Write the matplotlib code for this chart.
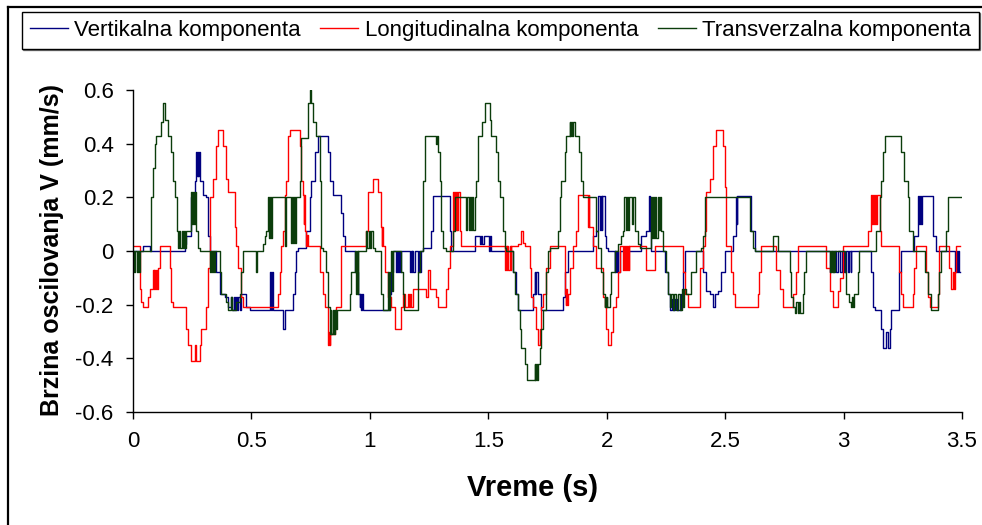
import matplotlib
matplotlib.use("Agg")
import matplotlib.pyplot as plt
from matplotlib.lines import Line2D
from matplotlib.ticker import FuncFormatter, MultipleLocator

plt.rcParams['font.family'] = ['Liberation Sans', 'DejaVu Sans']

# (vreme [s], brzina [mm/s]) - stepenasti zapis, svaka tacka vazi do sledece
vertikalna = [
    (0.000, 0.0), (0.042, 0.02), (0.070, 0.0), (0.218, 0.025), (0.225, 0.055), (0.246, 0.20),
    (0.260, 0.26), (0.267, 0.37), (0.270, 0.28), (0.273, 0.37), (0.276, 0.28), (0.279, 0.37),
    (0.281, 0.26), (0.295, 0.21), (0.310, 0.20), (0.317, 0.055), (0.324, 0.0),
    (0.352, -0.08), (0.366, -0.16), (0.387, -0.17), (0.401, -0.21), (0.415, -0.17), (0.420, -0.22),
    (0.425, -0.17), (0.430, -0.22), (0.435, -0.17), (0.440, -0.22), (0.445, -0.17), (0.450, -0.22),
    (0.457, -0.16), (0.478, -0.21), (0.492, -0.22),
    (0.577, -0.08), (0.581, -0.22), (0.585, -0.08), (0.591, -0.22), (0.633, -0.29), (0.640, -0.22),
    (0.675, -0.16), (0.682, -0.08), (0.689, 0.0), (0.697, 0.01), (0.732, 0.075), (0.746, 0.20),
    (0.753, 0.26), (0.767, 0.37), (0.781, 0.43), (0.823, 0.37), (0.830, 0.26), (0.844, 0.21),
    (0.880, 0.14), (0.887, 0.055), (0.894, 0.0),
    (0.936, -0.08), (0.950, -0.16), (0.957, -0.21), (0.960, -0.16), (0.964, -0.22), (0.967, -0.16),
    (0.971, -0.22), (1.084, -0.16), (1.091, -0.08), (1.098, 0.0),
    (1.112, -0.08), (1.116, 0.0), (1.120, -0.08), (1.125, 0.0), (1.129, -0.08), (1.133, 0.0),
    (1.168, -0.08), (1.172, 0.0), (1.176, -0.08), (1.180, 0.0), (1.184, -0.08), (1.189, 0.0),
    (1.203, -0.08), (1.207, 0.0), (1.211, -0.08), (1.217, 0.0), (1.224, 0.01), (1.259, 0.075),
    (1.266, 0.205), (1.337, 0.075), (1.344, 0.0),
    (1.443, 0.055), (1.464, 0.025), (1.468, 0.055), (1.475, 0.025), (1.480, 0.055),
    (1.503, 0.0), (1.507, 0.055), (1.513, 0.0),
    (1.604, -0.08), (1.618, -0.16), (1.625, -0.22), (1.689, -0.16), (1.696, -0.08), (1.699, -0.16),
    (1.703, -0.08), (1.710, -0.16), (1.724, -0.22), (1.815, -0.17), (1.822, -0.08), (1.836, 0.0),
    (1.942, 0.055), (1.956, 0.075), (1.963, 0.205), (1.970, 0.08), (1.974, 0.205), (1.978, 0.08),
    (1.982, 0.205), (1.991, 0.055), (1.998, 0.01), (2.005, 0.0),
    (2.033, -0.08), (2.037, 0.0), (2.041, -0.08), (2.045, 0.0), (2.049, -0.08), (2.054, 0.0),
    (2.146, 0.055), (2.167, 0.075), (2.179, 0.205), (2.182, 0.075), (2.188, 0.0), (2.245, -0.08),
    (2.259, -0.16), (2.266, -0.22), (2.275, -0.18), (2.280, -0.22), (2.290, -0.18), (2.295, -0.22),
    (2.315, -0.16), (2.322, -0.08), (2.329, 0.0),
    (2.406, -0.08), (2.421, -0.15), (2.435, -0.16), (2.449, -0.21), (2.456, -0.16), (2.470, -0.15),
    (2.484, -0.08), (2.498, 0.0), (2.533, 0.055), (2.547, 0.20), (2.550, 0.10), (2.552, 0.205),
    (2.610, 0.075), (2.624, 0.0),
    (2.941, -0.08), (2.948, 0.0), (2.955, -0.08), (2.960, 0.0), (2.966, -0.08), (2.975, 0.0),
    (2.985, -0.08), (2.992, 0.0), (3.000, -0.08), (3.010, 0.0), (3.018, -0.08), (3.025, 0.0),
    (3.030, -0.08), (3.032, 0.0),
    (3.116, -0.08), (3.123, -0.21), (3.131, -0.22), (3.159, -0.29), (3.166, -0.36), (3.180, -0.30),
    (3.187, -0.36), (3.194, -0.29), (3.201, -0.22), (3.236, -0.08), (3.243, 0.0), (3.299, 0.055),
    (3.313, 0.205), (3.318, 0.10), (3.322, 0.205), (3.326, 0.10), (3.330, 0.205), (3.377, 0.055),
    (3.391, 0.0),
    (3.469, -0.08), (3.473, 0.0), (3.478, -0.08), (3.483, 0.0), (3.487, -0.08), (3.490, -0.08),
]

longitudinalna = [
    (0.000, 0.02), (0.028, -0.14), (0.035, -0.19), (0.042, -0.21), (0.063, -0.17), (0.070, -0.14),
    (0.084, -0.07), (0.087, -0.14), (0.090, -0.07), (0.094, -0.14), (0.098, -0.07), (0.102, -0.14),
    (0.106, -0.065), (0.113, 0.02),
    (0.155, -0.065), (0.162, -0.19), (0.169, -0.21), (0.225, -0.29), (0.232, -0.35), (0.246, -0.41),
    (0.262, -0.35), (0.265, -0.41), (0.281, -0.35), (0.288, -0.29), (0.310, -0.21), (0.317, -0.065),
    (0.324, 0.20), (0.338, 0.27), (0.352, 0.39), (0.359, 0.45), (0.380, 0.39), (0.394, 0.27),
    (0.401, 0.22), (0.429, 0.09), (0.436, 0.02), (0.443, -0.065), (0.457, -0.17), (0.464, -0.21),
    (0.612, -0.16), (0.619, -0.08), (0.626, 0.02), (0.633, 0.075), (0.640, 0.21), (0.647, 0.26),
    (0.654, 0.43), (0.661, 0.45), (0.704, 0.39), (0.711, 0.26), (0.718, 0.21), (0.721, 0.10),
    (0.723, 0.21), (0.725, 0.075), (0.732, 0.02), (0.735, 0.06), (0.738, 0.02),
    (0.788, -0.08), (0.802, -0.16), (0.809, -0.21), (0.823, -0.35), (0.826, -0.30), (0.830, -0.35),
    (0.833, -0.30), (0.837, -0.31), (0.851, -0.22), (0.858, -0.21), (0.880, 0.02), (0.985, 0.075),
    (0.992, 0.22), (1.013, 0.27), (1.034, 0.22), (1.048, 0.09), (1.051, 0.02), (1.053, 0.09),
    (1.055, 0.02), (1.062, -0.08), (1.076, -0.17), (1.091, -0.21), (1.105, -0.29), (1.133, -0.21),
    (1.140, -0.16), (1.147, -0.21), (1.161, -0.16), (1.165, -0.21), (1.170, -0.16), (1.175, -0.21),
    (1.182, -0.14), (1.238, -0.17), (1.245, -0.07), (1.252, -0.14), (1.281, -0.17), (1.288, -0.21),
    (1.323, -0.14), (1.330, -0.065), (1.337, 0.02),
    (1.351, 0.22), (1.355, 0.08), (1.358, 0.22), (1.362, 0.08), (1.366, 0.22), (1.370, 0.08),
    (1.374, 0.22), (1.379, 0.075), (1.386, 0.02),
    (1.569, -0.07), (1.573, 0.02), (1.577, -0.07), (1.581, 0.02), (1.585, -0.07), (1.590, 0.02),
    (1.594, -0.07), (1.597, 0.02), (1.625, 0.025), (1.639, 0.075), (1.646, 0.03), (1.653, 0.02),
    (1.675, -0.065), (1.682, -0.17), (1.689, -0.21), (1.703, -0.29), (1.710, -0.35), (1.717, -0.29),
    (1.724, -0.21), (1.731, -0.16), (1.745, -0.065), (1.759, 0.02),
    (1.822, -0.16), (1.826, -0.20), (1.830, -0.14), (1.834, -0.20), (1.838, -0.16), (1.843, -0.065),
    (1.858, 0.02), (1.872, 0.075), (1.879, 0.21), (1.921, 0.09), (1.924, 0.21), (1.926, 0.09),
    (1.942, 0.02), (1.956, -0.065), (1.984, -0.17), (1.991, -0.21), (1.998, -0.29), (2.005, -0.35),
    (2.019, -0.30), (2.026, -0.21), (2.040, -0.17), (2.047, -0.08), (2.054, 0.02),
    (2.068, -0.07), (2.072, 0.02), (2.076, -0.07), (2.080, 0.02), (2.084, -0.07), (2.088, 0.02),
    (2.092, -0.07), (2.096, 0.02), (2.167, -0.07), (2.202, 0.02), (2.322, -0.08), (2.329, -0.16),
    (2.343, -0.21), (2.392, -0.065), (2.406, 0.02), (2.413, 0.075), (2.420, 0.22), (2.435, 0.27),
    (2.449, 0.39), (2.463, 0.45), (2.491, 0.39), (2.498, 0.24), (2.505, 0.02), (2.526, -0.08),
    (2.533, -0.16), (2.540, -0.21),
    (2.638, -0.16), (2.645, -0.08), (2.652, 0.02), (2.716, -0.07), (2.730, -0.14), (2.744, -0.21),
    (2.786, -0.16), (2.800, -0.08), (2.807, 0.02), (2.927, -0.065), (2.941, -0.15), (2.955, -0.21),
    (2.976, -0.15), (2.983, -0.10), (2.997, 0.02),
    (3.102, 0.075), (3.116, 0.21), (3.120, 0.10), (3.124, 0.21), (3.128, 0.10), (3.132, 0.21),
    (3.138, 0.10), (3.142, 0.21), (3.152, 0.075), (3.159, 0.02), (3.236, -0.08), (3.243, -0.16),
    (3.250, -0.21), (3.292, -0.16), (3.299, -0.065), (3.306, 0.02), (3.349, -0.08), (3.356, -0.17),
    (3.363, -0.21), (3.398, -0.16), (3.405, 0.02), (3.447, -0.065), (3.454, -0.14), (3.460, -0.08),
    (3.465, -0.14), (3.470, -0.08), (3.476, 0.02), (3.490, 0.02),
]

transverzalna = [
    (0.000, 0.0), (0.005, -0.08), (0.010, 0.0), (0.015, -0.08), (0.020, 0.0), (0.025, -0.08),
    (0.030, 0.0),
    (0.075, 0.20), (0.084, 0.31), (0.092, 0.40), (0.099, 0.43), (0.117, 0.48), (0.127, 0.55),
    (0.137, 0.49), (0.148, 0.43), (0.162, 0.37), (0.169, 0.26), (0.176, 0.20), (0.187, 0.075),
    (0.192, 0.01), (0.196, 0.075), (0.200, 0.01), (0.205, 0.075), (0.210, 0.01), (0.215, 0.075),
    (0.220, 0.01), (0.225, 0.075),
    (0.246, 0.22), (0.250, 0.10), (0.254, 0.22), (0.258, 0.10), (0.262, 0.22), (0.267, 0.075),
    (0.274, 0.01), (0.282, 0.0),
    (0.324, -0.08), (0.328, 0.0), (0.332, -0.08), (0.336, 0.0), (0.340, -0.08), (0.345, 0.0),
    (0.366, -0.08), (0.373, -0.16), (0.394, -0.19), (0.401, -0.22), (0.415, -0.17), (0.420, -0.22),
    (0.436, -0.19), (0.450, -0.16), (0.457, -0.08), (0.464, 0.0),
    (0.521, -0.08), (0.525, 0.0), (0.549, 0.025), (0.556, 0.055), (0.563, 0.075),
    (0.570, 0.20), (0.574, 0.05), (0.578, 0.20), (0.582, 0.05), (0.586, 0.20), (0.640, 0.02),
    (0.644, 0.20),
    (0.668, 0.03), (0.672, 0.20), (0.676, 0.03), (0.680, 0.20), (0.685, 0.03), (0.690, 0.20),
    (0.704, 0.26), (0.711, 0.42), (0.739, 0.55), (0.746, 0.60), (0.753, 0.55), (0.760, 0.48),
    (0.774, 0.43), (0.788, 0.26), (0.795, 0.01), (0.802, 0.0), (0.816, -0.08), (0.823, -0.21),
    (0.830, -0.31), (0.834, -0.22), (0.838, -0.31), (0.843, -0.22), (0.848, -0.31), (0.853, -0.22),
    (0.858, -0.29), (0.863, -0.22),
    (0.915, -0.16), (0.922, -0.08), (0.936, 0.0), (0.940, -0.16), (0.944, 0.0), (0.948, -0.16),
    (0.952, 0.0),
    (0.985, 0.075), (0.990, 0.01), (0.995, 0.075), (1.000, 0.01), (1.005, 0.075), (1.012, 0.01),
    (1.020, 0.0),
    (1.048, -0.16), (1.055, -0.22), (1.076, -0.08), (1.080, -0.22), (1.084, -0.08), (1.090, 0.0),
    (1.093, -0.15), (1.098, 0.0),
    (1.133, -0.08), (1.140, -0.16), (1.144, -0.22), (1.203, -0.08), (1.210, 0.0), (1.224, 0.26),
    (1.231, 0.43), (1.281, 0.40), (1.285, 0.43), (1.288, 0.37), (1.295, 0.26), (1.302, 0.075),
    (1.309, 0.01), (1.323, 0.0),
    (1.351, 0.075), (1.358, 0.20), (1.407, 0.08), (1.412, 0.20), (1.417, 0.08), (1.422, 0.20),
    (1.427, 0.08), (1.432, 0.20), (1.437, 0.08), (1.443, 0.20),
    (1.450, 0.26), (1.457, 0.43), (1.475, 0.48), (1.488, 0.55), (1.506, 0.49), (1.513, 0.43),
    (1.534, 0.37), (1.541, 0.26), (1.551, 0.20), (1.562, 0.075), (1.569, 0.01), (1.576, 0.0),
    (1.604, -0.08), (1.611, -0.16), (1.625, -0.22), (1.632, -0.29), (1.639, -0.36), (1.653, -0.42),
    (1.665, -0.48), (1.696, -0.42), (1.699, -0.48), (1.703, -0.42), (1.706, -0.48), (1.710, -0.42),
    (1.717, -0.36), (1.724, -0.29), (1.731, -0.22), (1.745, -0.08), (1.752, 0.0), (1.759, 0.01),
    (1.794, 0.075), (1.801, 0.20), (1.808, 0.26), (1.822, 0.37), (1.829, 0.43), (1.843, 0.48),
    (1.847, 0.43), (1.850, 0.48), (1.855, 0.43), (1.858, 0.48), (1.864, 0.43), (1.885, 0.37),
    (1.892, 0.26), (1.899, 0.20), (1.956, 0.075), (1.963, 0.01), (1.977, -0.08), (1.984, -0.16),
    (1.991, -0.21), (1.994, -0.17), (1.997, -0.21), (2.000, -0.17), (2.003, -0.21),
    (2.012, -0.16), (2.019, -0.08), (2.033, 0.0), (2.047, 0.025), (2.061, 0.055), (2.068, 0.075),
    (2.075, 0.20), (2.080, 0.08), (2.085, 0.20), (2.090, 0.08), (2.095, 0.20), (2.105, 0.10),
    (2.110, 0.20), (2.118, 0.075), (2.132, 0.025), (2.139, 0.01),
    (2.188, 0.20), (2.192, 0.05), (2.196, 0.20), (2.200, 0.05), (2.205, 0.20), (2.210, 0.05),
    (2.215, 0.20), (2.220, 0.08), (2.225, 0.20), (2.231, 0.075), (2.238, 0.0), (2.252, -0.08),
    (2.259, -0.16), (2.266, -0.21),
    (2.272, -0.16), (2.278, -0.22), (2.285, -0.16), (2.292, -0.22), (2.300, -0.16), (2.308, -0.22),
    (2.316, -0.14), (2.322, -0.21), (2.328, -0.14), (2.336, -0.16), (2.357, -0.08), (2.378, 0.0),
    (2.399, 0.01), (2.406, 0.055), (2.413, 0.20),
    (2.603, 0.075), (2.617, 0.01), (2.624, 0.0), (2.702, 0.055), (2.723, 0.0), (2.772, -0.08),
    (2.779, -0.17), (2.786, -0.21), (2.793, -0.23), (2.800, -0.19), (2.806, -0.23), (2.812, -0.19),
    (2.817, -0.23), (2.828, -0.16), (2.835, -0.08), (2.842, 0.0),
    (2.941, -0.08), (2.946, 0.0), (2.950, -0.08), (2.955, 0.0), (2.960, -0.08), (2.962, 0.0),
    (3.004, -0.08), (3.011, -0.16), (3.025, -0.19), (3.030, -0.21), (3.034, -0.17), (3.038, -0.21),
    (3.046, -0.16), (3.060, -0.08), (3.067, 0.0),
    (3.138, 0.075), (3.152, 0.20), (3.159, 0.26), (3.166, 0.37), (3.173, 0.43), (3.243, 0.37),
    (3.257, 0.26), (3.271, 0.20), (3.278, 0.075), (3.292, 0.0), (3.342, -0.08), (3.356, -0.16),
    (3.370, -0.22), (3.398, -0.16), (3.405, -0.08), (3.412, 0.0), (3.433, 0.075), (3.440, 0.20),
    (3.500, 0.20),
]

serije = [
    ("Vertikalna komponenta", vertikalna, "#000080"),
    ("Longitudinalna komponenta", longitudinalna, "#FF0000"),
    ("Transverzalna komponenta", transverzalna, "#0B3D0B"),
]

W, H = 982, 525
fig = plt.figure(figsize=(W / 100, H / 100), dpi=100)
ax = fig.add_axes([133 / W, 1 - 412 / H, (962 - 133) / W, (412 - 90) / H])

for naziv, podaci, boja in serije:
    t = [p[0] for p in podaci]
    v = [p[1] for p in podaci]
    ax.plot(t, v, drawstyle="steps-post", color=boja, lw=1.0, label=naziv)

ax.set_xlim(0, 3.5)
ax.set_ylim(-0.6, 0.6)
ax.xaxis.set_major_locator(MultipleLocator(0.5))
ax.yaxis.set_major_locator(MultipleLocator(0.2))
fmt = FuncFormatter(lambda x, pos: "%g" % round(x, 2))
ax.xaxis.set_major_formatter(fmt)
ax.yaxis.set_major_formatter(fmt)
ax.tick_params(direction="out", length=5, width=1, labelsize=16, pad=9, color="black")
ax.spines["top"].set_visible(False)
ax.spines["right"].set_visible(False)
for s in ("left", "bottom"):
    ax.spines[s].set_linewidth(1)
    ax.spines[s].set_color("black")

fig.text(533 / W, 1 - 488 / H, "Vreme (s)", ha="center", va="center",
         fontsize=21, fontweight="bold")
fig.text(52 / W, 1 - 250 / H, "Brzina oscilovanja V (mm/s)", ha="center", va="center",
         rotation=90, fontsize=18, fontweight="bold")

leg = fig.legend(loc="upper left", bbox_to_anchor=(22 / W, 1 - 50 / H, 957 / W, 38 / H),
                 mode="expand", ncol=3,
                 fontsize=16, frameon=True, fancybox=False, edgecolor="black",
                 handlelength=1.7, handletextpad=0.3, columnspacing=0.6,
                 borderpad=0.35, borderaxespad=0,
                 shadow={"ox": 1, "oy": -1, "shade": 0.9})
leg.get_frame().set_linewidth(1)

# okvir grafika (vidi se levo i gore)
fig.add_artist(Line2D([8 / W, 8 / W], [0, 1 - 7 / H], color="black", lw=1.6))
fig.add_artist(Line2D([8 / W, 1], [1 - 7 / H, 1 - 7 / H], color="black", lw=1.6))

fig.savefig("out.png", dpi=100)
